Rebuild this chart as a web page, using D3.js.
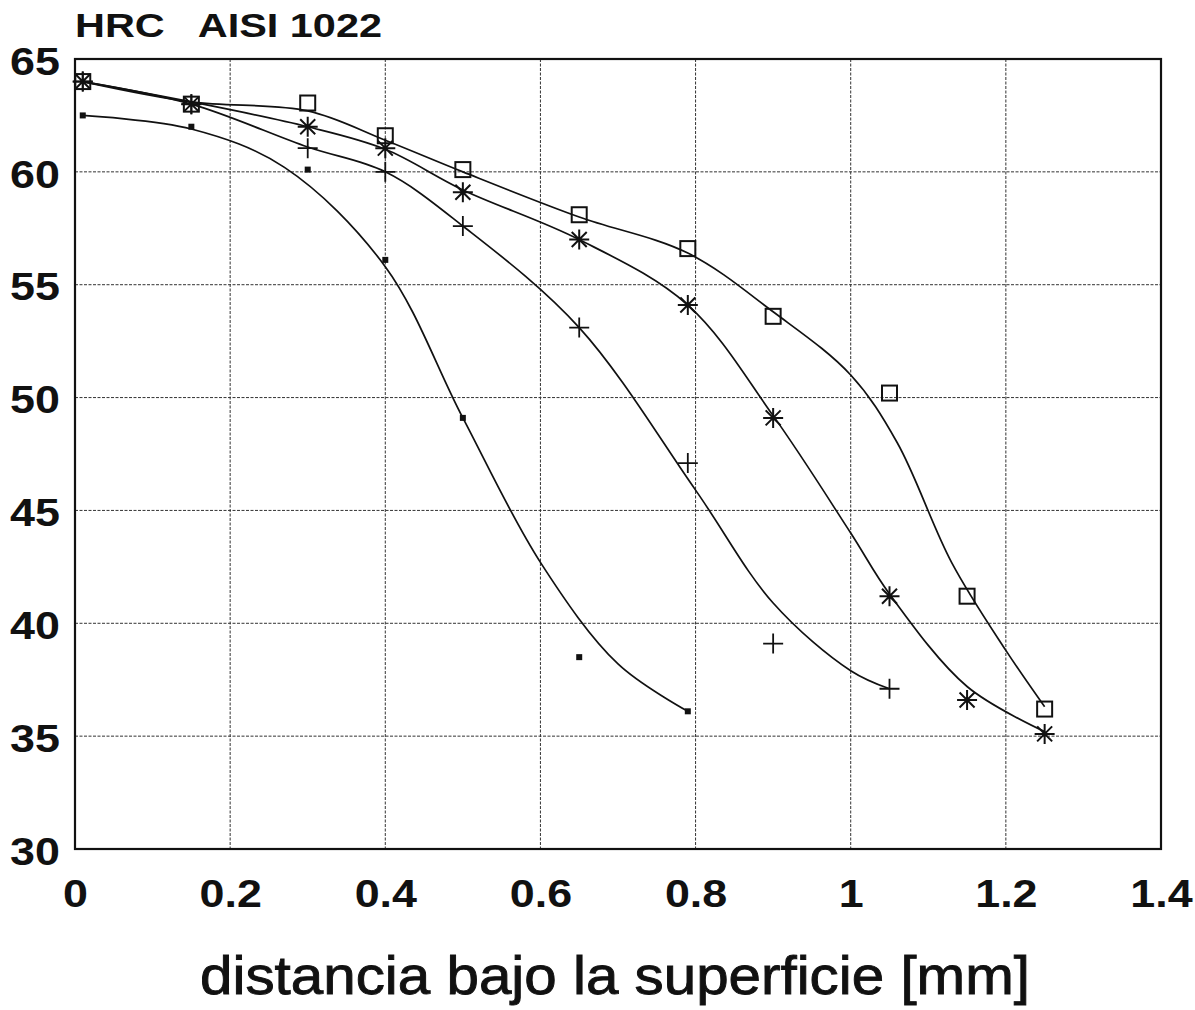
<!DOCTYPE html>
<html>
<head>
<meta charset="utf-8">
<script src="https://cdn.jsdelivr.net/npm/d3@7"></script>
<style>
  body { margin: 0; background: #fff; }
  svg text { font-family: "Liberation Sans", Arial, sans-serif; fill: #111; }
</style>
</head>
<body>
<div id="chart"></div>
<script>
const xTicks = [0, 0.2, 0.4, 0.6, 0.8, 1, 1.2, 1.4];
const yTicks = [30, 35, 40, 45, 50, 55, 60, 65];

const squareX = [0.01, 0.15, 0.30, 0.40, 0.50, 0.65, 0.79, 0.90, 1.05, 1.15, 1.25];
const squareY = [64.0, 63.0, 63.05, 61.6, 60.1, 58.1, 56.6, 53.6, 50.2, 41.2, 36.2];

const starX = [0.01, 0.15, 0.30, 0.40, 0.50, 0.65, 0.79, 0.90, 1.05, 1.15, 1.25];
const starY = [64.0, 63.0, 62.0, 61.05, 59.1, 57.0, 54.1, 49.1, 41.2, 36.6, 35.1];

const plusX = [0.01, 0.15, 0.30, 0.40, 0.50, 0.65, 0.79, 0.90, 1.05];
const plusY = [64.0, 63.0, 61.05, 60.0, 57.6, 53.1, 47.1, 39.1, 37.1];

const dotX = [0.01, 0.15, 0.30, 0.40, 0.50, 0.65, 0.79];
const dotY = [62.5, 62.0, 60.1, 56.1, 49.1, 38.5, 36.1];

// fitted curves (as drawn in the original, they don't hit every point)
const squareFitX = [0.01, 0.15, 0.30, 0.40, 0.50, 0.65, 0.79, 0.90, 1.00, 1.06, 1.13, 1.20, 1.25];
const squareFitY = [64.0, 63.1, 62.7, 61.4, 60.0, 58.0, 56.4, 53.8, 51.0, 48.0, 42.7, 38.8, 36.3];

const starFitX = [0.01, 0.15, 0.30, 0.40, 0.50, 0.65, 0.79, 0.90, 1.00, 1.05, 1.15, 1.25];
const starFitY = [64.0, 63.1, 62.0, 61.0, 59.2, 57.0, 54.1, 49.2, 44.0, 41.3, 37.2, 35.2];

const plusFitX = [0.01, 0.15, 0.30, 0.40, 0.50, 0.65, 0.80, 0.90, 1.00, 1.05];
const plusFitY = [64.0, 63.0, 61.1, 60.0, 57.6, 53.1, 45.9, 40.9, 37.9, 37.1];

const dotFitX = [0.01, 0.15, 0.27, 0.40, 0.50, 0.60, 0.70, 0.79];
const dotFitY = [62.5, 61.9, 60.2, 55.8, 49.1, 42.7, 38.2, 36.1];

const zip = (xs, ys) => xs.map((x, i) => ({x: x, y: ys[i]}));

const W = 1195, H = 1010;
const margin = {top: 59, right: 34, bottom: 161, left: 75},
    width = W - margin.left - margin.right,
    height = H - margin.top - margin.bottom;

const svg = d3.select("#chart")
    .append("svg")
    .attr("width", W)
    .attr("height", H);

const g = svg.append("g")
    .attr("transform", `translate(${margin.left},${margin.top})`);

const x = d3.scaleLinear().domain([0, 1.4]).range([0, width]);
const y = d3.scaleLinear().domain([30, 65]).range([height, 0]);

// stretch text horizontally like the scanned lettering
function stretch(sel, k) {
    sel.each(function() {
        const w = this.getComputedTextLength();
        d3.select(this).attr("textLength", w * k).attr("lengthAdjust", "spacingAndGlyphs");
    });
}

// grid
g.append("g")
    .selectAll("line")
    .data(xTicks.slice(1, -1))
    .join("line")
    .attr("x1", d => x(d)).attr("x2", d => x(d))
    .attr("y1", 0).attr("y2", height)
    .attr("stroke", "#333").attr("stroke-width", 1).attr("stroke-dasharray", "3,1.5");

g.append("g")
    .selectAll("line")
    .data(yTicks.slice(1, -1))
    .join("line")
    .attr("x1", 0).attr("x2", width)
    .attr("y1", d => y(d)).attr("y2", d => y(d))
    .attr("stroke", "#333").attr("stroke-width", 1).attr("stroke-dasharray", "3,1.5");

// axes (labels only, frame drawn separately)
const xAxis = g.append("g")
    .attr("transform", `translate(0,${height})`)
    .call(d3.axisBottom(x).tickValues(xTicks).tickSize(0).tickPadding(31)
        .tickFormat(d => String(+d.toFixed(1))));
xAxis.select(".domain").remove();
xAxis.selectAll("text")
    .style("font-size", "38px").style("font-weight", "bold")
    .style("font-family", "'Liberation Sans', Arial, sans-serif")
    .call(stretch, 1.18);

const yAxis = g.append("g")
    .call(d3.axisLeft(y).tickValues(yTicks).tickSize(0).tickPadding(15).tickFormat(d3.format("d")));
yAxis.select(".domain").remove();
yAxis.selectAll("text")
    .attr("transform", "translate(0,3)")
    .style("font-size", "38px").style("font-weight", "bold")
    .style("font-family", "'Liberation Sans', Arial, sans-serif")
    .call(stretch, 1.18);

// frame
g.append("rect")
    .attr("width", width).attr("height", height)
    .attr("fill", "none").attr("stroke", "#111").attr("stroke-width", 2.2);

// curves
const line = d3.line()
    .x(d => x(d.x))
    .y(d => y(d.y))
    .curve(d3.curveCatmullRom.alpha(0.5));

[[squareFitX, squareFitY], [starFitX, starFitY], [plusFitX, plusFitY], [dotFitX, dotFitY]].forEach(([xs, ys]) => {
    g.append("path")
        .datum(zip(xs, ys))
        .attr("d", line)
        .attr("fill", "none")
        .attr("stroke", "#111")
        .attr("stroke-width", 1.7);
});

// markers
g.append("g").selectAll("rect")
    .data(zip(dotX, dotY))
    .join("rect")
    .attr("x", d => x(d.x) - 3).attr("y", d => y(d.y) - 3)
    .attr("width", 6).attr("height", 6)
    .attr("fill", "#111");

g.append("g").selectAll("path")
    .data(zip(plusX, plusY))
    .join("path")
    .attr("d", d => {
        const cx = x(d.x), cy = y(d.y), r = 10;
        return `M${cx - r},${cy}H${cx + r}M${cx},${cy - r}V${cy + r}`;
    })
    .attr("stroke", "#111").attr("stroke-width", 1.8).attr("fill", "none");

g.append("g").selectAll("path")
    .data(zip(starX, starY))
    .join("path")
    .attr("d", d => {
        const cx = x(d.x), cy = y(d.y), r = 10, q = 7.5;
        return `M${cx - r},${cy}H${cx + r}M${cx},${cy - r}V${cy + r}` +
            `M${cx - q},${cy - q}L${cx + q},${cy + q}M${cx - q},${cy + q}L${cx + q},${cy - q}`;
    })
    .attr("stroke", "#111").attr("stroke-width", 2).attr("fill", "none");

g.append("g").selectAll("rect")
    .data(zip(squareX, squareY))
    .join("rect")
    .attr("x", d => x(d.x) - 7.5).attr("y", d => y(d.y) - 7.5)
    .attr("width", 15).attr("height", 15)
    .attr("fill", "none").attr("stroke", "#111").attr("stroke-width", 2);

// title and axis label
svg.append("text")
    .attr("x", 75).attr("y", 37)
    .style("font-size", "33px").style("font-weight", "bold")
    .attr("xml:space", "preserve")
    .text("HRC   AISI 1022")
    .attr("textLength", 307).attr("lengthAdjust", "spacingAndGlyphs");

svg.append("text")
    .attr("x", 615).attr("y", 994)
    .attr("text-anchor", "middle")
    .style("font-size", "54px")
    .attr("stroke", "#111").attr("stroke-width", 0.9)
    .text("distancia bajo la superficie [mm]")
    .attr("textLength", 830).attr("lengthAdjust", "spacingAndGlyphs");
</script>
</body>
</html>
